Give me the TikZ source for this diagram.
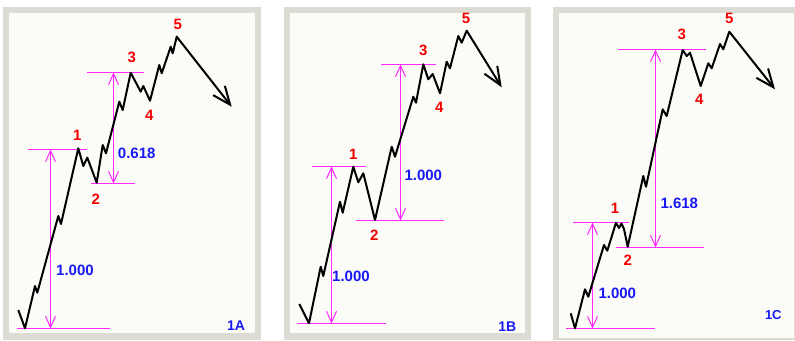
\documentclass[tikz,border=0pt]{standalone}
\usepackage{fontspec}
\setmainfont{Liberation Sans}
\usetikzlibrary{arrows.meta}
\definecolor{framegray}{RGB}{220,220,212}
\definecolor{panelbg}{RGB}{251,252,248}
\definecolor{wavered}{RGB}{245,0,0}
\definecolor{ratioblue}{RGB}{25,25,245}
\definecolor{fibmag}{RGB}{255,40,255}
\tikzset{
  panelframe/.style={fill=framegray, draw=none},
  panelinner/.style={fill=panelbg, draw=none},
  wave/.style={draw=black, line width=2pt, line join=round,
    -{Straight Barb[length=18pt,width=15pt,line width=2pt]}},
  level/.style={draw=fibmag, line width=1pt},
  span/.style={draw=fibmag, line width=1pt,
    {Straight Barb[length=11pt,width=10pt,line width=1pt]}-{Straight Barb[length=11pt,width=10pt,line width=1pt]}},
  wavelbl/.style={text=wavered, font=\fontsize{15pt}{15pt}\selectfont\bfseries, inner sep=0pt},
  ratiolbl/.style={text=ratioblue, font=\fontsize{15pt}{15pt}\selectfont\bfseries, inner sep=0pt},
  panellbl/.style={text=ratioblue, font=\fontsize{14pt}{14pt}\selectfont\bfseries, inner sep=0pt},
}
\begin{document}
\begin{tikzpicture}[x=1pt,y=-1pt]
\useasboundingbox (0,0) rectangle (795,340);
\fill[white] (0,0) rectangle (795,340);
% panels
\fill[panelframe] (3,7) rectangle (261,340);
\fill[panelinner] (9,13) rectangle (255,333);
\fill[panelframe] (284,7) rectangle (531,340);
\fill[panelinner] (290,13) rectangle (525,333);
\fill[panelframe] (553,7) rectangle (795,340);
\fill[panelinner] (559,13) rectangle (794,338);

% ===== Panel 1A =====
\draw[level] (17,328.5) -- (110,328.5);
\draw[level] (28,149.5) -- (87,149.5);
\draw[span] (50.5,149.5) -- (50.5,328.5);
\draw[level] (90.7,183.5) -- (135,183.5);
\draw[level] (87.3,72.5) -- (144,72.5);
\draw[span] (113.5,72.5) -- (113.5,183.5);
\draw[wave] (18.3,310) -- (25,328.3) -- (35,286) -- (37.3,292.7) -- (58.3,216) -- (61,224)
  -- (78.3,148.3) -- (83.3,166) -- (87.3,157.7) -- (96.7,182.7) -- (102.7,145) -- (106,153.3)
  -- (119.3,101.7) -- (122.7,110) -- (130.7,72.7) -- (140.7,91.7) -- (143.3,86) -- (150,100.7)
  -- (159.3,65) -- (161.7,73.3) -- (170.7,46.7) -- (172.7,53.3) -- (176.7,36.7) -- (231.7,106.7);
\node[wavelbl] (a1) at (77.3,135) {1};
\node[wavelbl] (a2) at (95.7,199) {2};
\node[wavelbl] (a3) at (131.7,57.7) {3};
\node[wavelbl] (a4) at (149.3,115) {4};
\node[wavelbl] (a5) at (177.7,24) {5};
\node[ratiolbl] (ar1) at (75,270.7) {1.000};
\node[ratiolbl] (ar2) at (136.7,153.3) {0.618};
\node[panellbl] (atag) at (236,326) {1A};

% ===== Panel 1B =====
\draw[level] (296.7,323.5) -- (386,323.5);
\draw[level] (312.3,166.5) -- (365.7,166.5);
\draw[span] (331.5,166.5) -- (331.5,323.5);
\draw[level] (356,220.5) -- (444,220.5);
\draw[level] (381,64.5) -- (435.7,64.5);
\draw[span] (400.5,64.5) -- (400.5,220.5);
\draw[wave] (299.3,304) -- (309,323.3) -- (320.7,266.7) -- (323.3,276) -- (340,201.7) -- (342.7,212.7)
  -- (353.3,166.7) -- (358.3,182.3) -- (363.3,173.3) -- (375,220) -- (391.7,146.7) -- (395,156.7)
  -- (413.3,96.7) -- (416,102.7) -- (423.3,64.3) -- (428.3,79.3) -- (432.7,74) -- (440,93.3)
  -- (446.7,61.7) -- (450,68.3) -- (458.3,36) -- (461.7,42.7) -- (466.7,30.7) -- (501.7,87.3);
\node[wavelbl] (b1) at (353.3,154) {1};
\node[wavelbl] (b2) at (374.3,235) {2};
\node[wavelbl] (b3) at (423.3,50) {3};
\node[wavelbl] (b4) at (439.3,107.3) {4};
\node[wavelbl] (b5) at (466,18.3) {5};
\node[ratiolbl] (br1) at (351,276.7) {1.000};
\node[ratiolbl] (br2) at (423.3,175) {1.000};
\node[panellbl] (btag) at (507.3,326.7) {1B};

% ===== Panel 1C =====
\draw[level] (566,328.5) -- (655,328.5);
\draw[level] (572.7,222.5) -- (629.3,222.5);
\draw[span] (592.5,222.5) -- (592.5,328.5);
\draw[level] (616,247.5) -- (704,247.5);
\draw[level] (618.3,49.5) -- (706,49.5);
\draw[span] (655.5,49.5) -- (655.5,247.5);
\draw[wave] (570.7,313.3) -- (575,328.3) -- (585,289.3) -- (588.3,296.7) -- (604,245) -- (607.3,250.7)
  -- (616,222.7) -- (619,228) -- (621.5,223.5) -- (624,229) -- (627.7,246.7) -- (643.3,176) -- (646,186.7)
  -- (662.7,109.3) -- (666.7,116) -- (682.7,50) -- (686.7,56) -- (690,52.7) -- (700.7,86)
  -- (708.3,63.3) -- (711.7,68.3) -- (720,44) -- (723.3,49.3) -- (729.3,31.7) -- (775,89.3);
\node[wavelbl] (c1) at (615,208.3) {1};
\node[wavelbl] (c2) at (627.7,260) {2};
\node[wavelbl] (c3) at (681.7,34.3) {3};
\node[wavelbl] (c4) at (699.3,99) {4};
\node[wavelbl] (c5) at (729.3,18.3) {5};
\node[ratiolbl] (cr1) at (617.3,293.3) {1.000};
\node[ratiolbl] (cr2) at (679.3,203.3) {1.618};
\node[panellbl, font=\fontsize{13pt}{13pt}\selectfont\bfseries] (ctag) at (773.3,315) {1C};
\end{tikzpicture}
\end{document}
